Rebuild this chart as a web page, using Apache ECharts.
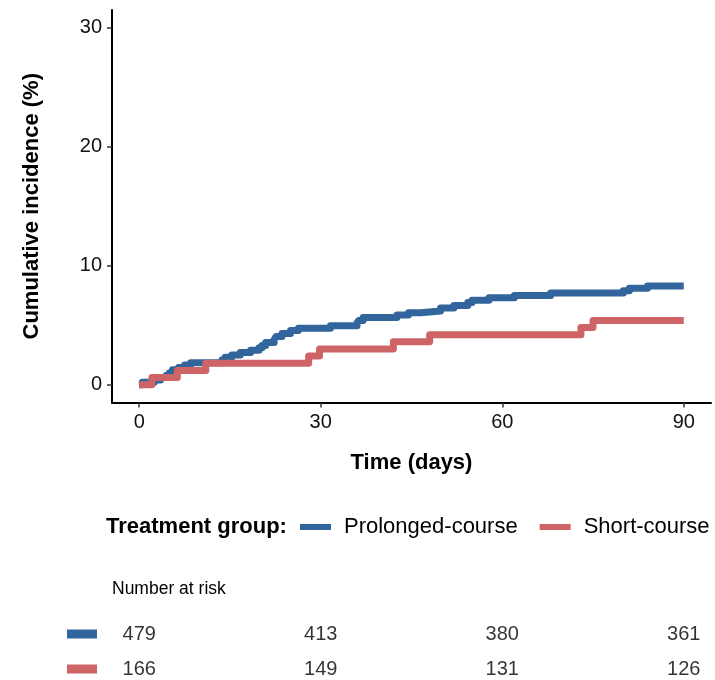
<!DOCTYPE html>
<html>
<head>
<meta charset="utf-8">
<script src="https://cdn.jsdelivr.net/npm/echarts@6/dist/echarts.min.js"></script>
<style>html,body{margin:0;padding:0;background:#fff;}#c{width:715px;height:680px;}</style>
</head>
<body>
<div id="c"></div>
<script>
// Data
var groups = ['Prolonged-course', 'Short-course'];
var prolongedSteps = [[0,0],[0.5,0.2],[2.5,0.4],[3.5,0.6],[4.5,0.8],[5,1.0],[5.5,1.25],[6.5,1.45],[7.5,1.65],[8.5,1.85],[13.7,2.1],[14.2,2.3],[15.3,2.5],[16.7,2.7],[18.4,2.9],[19.8,3.1],[20.3,3.3],[20.9,3.55],[22.3,3.8],[22.6,4.05],[23.6,4.3],[25,4.55],[26.3,4.75],[31.6,4.95],[36,5.2],[36.3,5.4],[37,5.65],[42.6,5.85],[44.5,6.05],[46.5,6.2],[49.8,6.45],[52,6.65],[54.3,6.9],[55,7.1],[57.8,7.3],[62,7.5],[68,7.7],[80,7.9],[81,8.1],[84,8.3],[90,8.3]];
var shortSteps = [[0,0],[2.1,0.6],[6.3,1.2],[11,1.8],[28,2.4],[29.8,3.0],[42,3.6],[48,4.2],[73,4.8],[75,5.4],[90,5.4]];
var xTicks = [0, 30, 60, 90];
var yTicks = [0, 10, 20, 30];
var riskTimes = [0, 30, 60, 90];
var riskRows = [0, 1];
var riskProlonged = [479, 413, 380, 361];
var riskShort = [166, 149, 131, 126];

var colors = ['#31659C', '#CF6466'];
var font = "'Liberation Sans', Arial, sans-serif";

function riskData(vals, row) {
  return riskTimes.map(function (t, i) { return [t, row, vals[i]]; });
}

var chart = echarts.init(document.getElementById('c'), null, {renderer: 'canvas'});
chart.setOption({
  animation: false,
  textStyle: {fontFamily: font},
  title: [
    {text: 'Treatment group:', left: 106, top: 514, padding: 0,
     textStyle: {fontFamily: font, fontSize: 22, fontWeight: 'bold', color: '#000', lineHeight: 26}},
    {text: 'Number at risk', left: 112, top: 580, padding: 0,
     textStyle: {fontFamily: font, fontSize: 17.5, fontWeight: 'normal', color: '#000'}}
  ],
  legend: {
    data: groups, left: 300, top: 514, padding: 0,
    icon: 'rect', itemWidth: 31, itemHeight: 6, itemGap: 22,
    selectedMode: false,
    textStyle: {fontFamily: font, fontSize: 22, color: '#000', lineHeight: 26, padding: [0, 0, 0, 8]}
  },
  grid: [
    {left: 112, right: 4, top: 10, bottom: 277.5, containLabel: false},
    {left: 112, right: 4, top: 599, bottom: 0, containLabel: false}
  ],
  xAxis: [
    {type: 'value', gridIndex: 0, min: -4.5, max: 94.5,
     name: 'Time (days)', nameLocation: 'middle', nameGap: 49,
     nameTextStyle: {fontFamily: font, fontSize: 22, fontWeight: 'bold', color: '#000'},
     axisLine: {show: true, onZero: false, lineStyle: {color: '#000', width: 2}},
     axisTick: {show: true, length: 5, customValues: xTicks, lineStyle: {color: '#333', width: 1.5}},
     axisLabel: {customValues: xTicks, margin: 10, fontSize: 20, color: '#111', fontFamily: font},
     splitLine: {show: false}},
    {type: 'value', gridIndex: 1, min: -4.5, max: 94.5, show: false}
  ],
  yAxis: [
    {type: 'value', gridIndex: 0, min: -1.5, max: 31.5,
     name: 'Cumulative incidence (%)', nameLocation: 'middle', nameGap: 69,
     nameTextStyle: {fontFamily: font, fontSize: 22, fontWeight: 'bold', color: '#000'},
     axisLine: {show: true, onZero: false, lineStyle: {color: '#000', width: 2}},
     axisTick: {show: true, length: 5, customValues: yTicks, lineStyle: {color: '#333', width: 1.5}},
     axisLabel: {customValues: yTicks, margin: 10, fontSize: 20, color: '#111', fontFamily: font},
     splitLine: {show: false}},
    {type: 'value', gridIndex: 1, inverse: true, min: -1, max: 1.3143,
     axisLine: {show: false}, axisTick: {show: false}, splitLine: {show: false},
     axisLabel: {margin: 15, customValues: riskRows,
       formatter: function (v) { return v === 0 ? '{a|}' : '{b|}'; },
       rich: {a: {width: 30, height: 9, backgroundColor: colors[0]},
              b: {width: 30, height: 9, backgroundColor: colors[1]}}}}
  ],
  series: [
    {name: groups[0], type: 'line', step: 'end', data: prolongedSteps, showSymbol: false,
     xAxisIndex: 0, yAxisIndex: 0, color: colors[0],
     lineStyle: {width: 7, color: colors[0], join: 'round'}},
    {name: groups[1], type: 'line', step: 'end', data: shortSteps, showSymbol: false,
     xAxisIndex: 0, yAxisIndex: 0, color: colors[1],
     lineStyle: {width: 7, color: colors[1], join: 'round'}},
    {type: 'scatter', xAxisIndex: 1, yAxisIndex: 1, data: riskData(riskProlonged, riskRows[0]),
     symbolSize: 1, itemStyle: {color: 'rgba(0,0,0,0)'}, silent: true,
     label: {show: true, position: 'inside', formatter: function (p) { return p.value[2]; },
             fontSize: 20, color: '#000', fontFamily: font}},
    {type: 'scatter', xAxisIndex: 1, yAxisIndex: 1, data: riskData(riskShort, riskRows[1]),
     symbolSize: 1, itemStyle: {color: 'rgba(0,0,0,0)'}, silent: true,
     label: {show: true, position: 'inside', formatter: function (p) { return p.value[2]; },
             fontSize: 20, color: '#000', fontFamily: font}}
  ]
});
</script>
</body>
</html>
